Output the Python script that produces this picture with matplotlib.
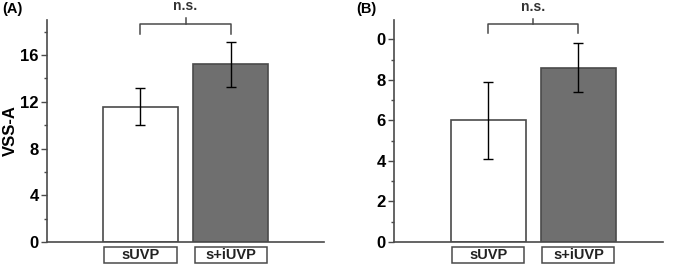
import matplotlib

matplotlib.use("Agg")
import matplotlib.pyplot as plt
from matplotlib.patches import Rectangle
from matplotlib.ticker import MultipleLocator
import matplotlib.transforms as mtransforms

plt.rcParams["font.family"] = ["Liberation Sans", "DejaVu Sans"]
plt.rcParams["font.weight"] = "bold"

categories = ["sUVP", "s+iUVP"]
a_means = [11.6, 15.2]
a_err_lo = [10.0, 13.3]
a_err_hi = [13.2, 17.1]
b_means = [6.0, 8.6]
b_err_lo = [4.1, 7.4]
b_err_hi = [7.9, 9.8]
a_yticks = [0, 4, 8, 12, 16]
b_yticks = [0, 2, 4, 6, 8, 10]
b_yticklabels = ["0", "2", "4", "6", "8", "0"]  # leading "1" clipped in the original

EDGE = "#4a4a4a"
FILLS = ["white", "#6f6f6f"]


def draw_panel(ax, means, lo, hi, ylim, yticks, minor, bracket_y, leg, tag, ylabels=None):
    xs = list(range(len(categories)))
    ax.bar(xs, means, width=0.83, color=FILLS, edgecolor=EDGE, linewidth=1.2, zorder=2)
    yerr = [[m - l for m, l in zip(means, lo)], [h - m for m, h in zip(means, hi)]]
    ax.errorbar(xs, means, yerr=yerr, fmt="none", ecolor="black", elinewidth=1.0,
                capsize=3.5, capthick=1.0, zorder=3)
    ax.set_ylim(*ylim)
    ax.set_yticks(yticks)
    if ylabels is not None:
        ax.set_yticklabels(ylabels)
    ax.yaxis.set_minor_locator(MultipleLocator(minor))
    ax.tick_params(axis="y", which="major", direction="out", length=4, width=1,
                   labelsize=12, color=EDGE, pad=2)
    ax.tick_params(axis="y", which="minor", direction="out", length=2.5, width=1, color=EDGE)
    ax.set_xticks([])
    for lab in ax.get_yticklabels():
        lab.set_fontweight("bold")
    for s in ("top", "right"):
        ax.spines[s].set_visible(False)
    for s in ("left", "bottom"):
        ax.spines[s].set_color(EDGE)
        ax.spines[s].set_linewidth(1.2)

    # significance bracket
    ax.plot([xs[0], xs[0], xs[1], xs[1]], [bracket_y - leg, bracket_y, bracket_y, bracket_y - leg],
            color=EDGE, linewidth=1.1, clip_on=False)
    mid = (xs[0] + xs[1]) / 2
    ax.plot([mid, mid], [bracket_y, bracket_y + leg * 0.6], color=EDGE, linewidth=1.1, clip_on=False)
    ax.text(mid, bracket_y + leg * 1.1, "n.s.", ha="center", va="bottom", fontsize=10,
            fontweight="bold", color="#333333", clip_on=False)

    # boxed category labels under the axis
    trans = mtransforms.blended_transform_factory(ax.transData, ax.transAxes)
    for x, name in zip(xs, categories):
        ax.add_patch(Rectangle((x - 0.4, -0.095), 0.8, 0.072, transform=trans,
                               facecolor="white", edgecolor=EDGE, linewidth=1.1, clip_on=False))
        ax.text(x, -0.059, name, transform=trans, ha="center", va="center",
                fontsize=10.5, fontweight="bold", color="#222222")

    ax.text(-0.16, 1.02, tag, transform=ax.transAxes, ha="left", va="bottom",
            fontsize=10.5, fontweight="bold")


fig = plt.figure(figsize=(6.76, 2.68), dpi=100)
ax_a = fig.add_axes([0.0695, 0.097, 0.41, 0.828])
ax_b = fig.add_axes([0.5828, 0.097, 0.398, 0.828])

ax_a.set_xlim(-1.03, 2.03)
draw_panel(ax_a, a_means, a_err_lo, a_err_hi, (0, 19.0), a_yticks, 2, 18.65, 0.85, "(A)")
ax_a.set_ylabel("VSS-A", fontsize=12, fontweight="bold")
ax_a.yaxis.set_label_coords(-0.105, 0.5)

ax_b.set_xlim(-1.05, 1.94)
draw_panel(ax_b, b_means, b_err_lo, b_err_hi, (0, 10.95), b_yticks, 1, 10.75, 0.45, "(B)",
           ylabels=b_yticklabels)
ax_b.texts[-1].set_position((-0.14, 1.02))

fig.savefig("out.png", dpi=100)
